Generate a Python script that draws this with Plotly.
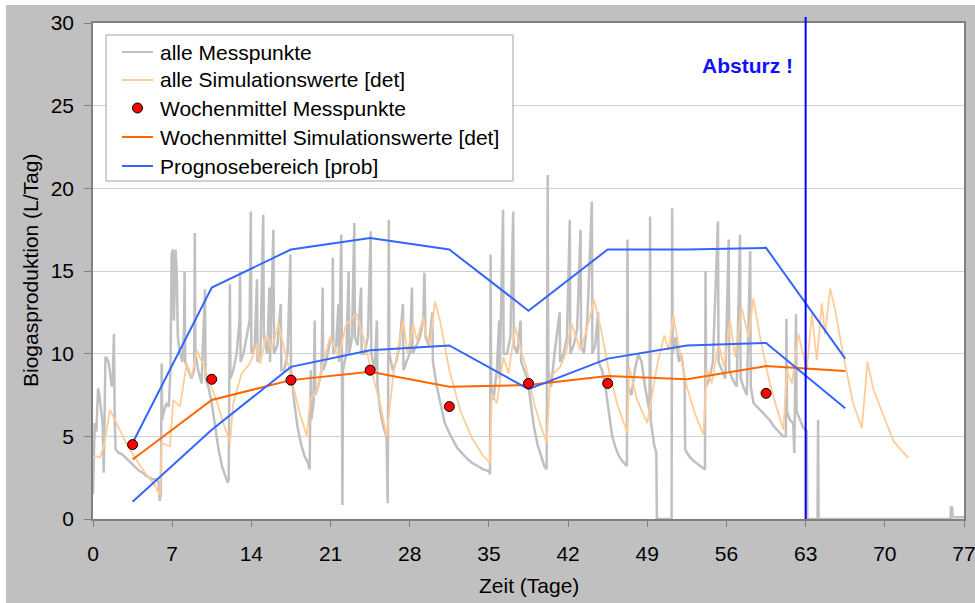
import plotly.graph_objects as go

# ---------------- data ----------------
week_t = [3.5, 10.5, 17.5, 24.5, 31.5, 38.5, 45.5, 52.5, 59.5, 66.5]
prog_upper = [4.6, 14.0, 16.3, 17.0, 16.3, 12.6, 16.3, 16.3, 16.4, 9.7]
prog_lower = [1.05, 5.4, 9.2, 10.2, 10.5, 7.85, 9.7, 10.5, 10.65, 6.7]
wm_sim = [3.6, 7.2, 8.4, 8.9, 8.0, 8.1, 8.65, 8.45, 9.25, 8.95]

wm_mess_t = [3.5, 10.5, 17.5, 24.5, 31.5, 38.5, 45.5, 59.5]
wm_mess = [4.5, 8.45, 8.4, 9.0, 6.8, 8.2, 8.2, 7.6]

# all measured points (time in days, L/day)
mess_t = [
    0.00, 0.05, 0.15, 0.30, 0.45, 0.55, 0.70, 0.85, 0.95, 1.00, 1.10, 1.25, 1.40, 1.55, 1.65, 1.75,
    1.85, 1.92, 2.00, 2.30, 2.60, 2.90, 3.20, 3.50, 3.80, 4.10, 4.40, 4.70, 5.00, 5.30, 5.60, 5.80,
    5.90, 6.00, 6.07, 6.12, 6.30, 6.50, 6.70, 6.85,
    6.95, 7.05, 7.15, 7.30, 7.40, 7.50, 7.70, 7.90, 8.05, 8.10, 8.15, 8.40, 8.70, 8.95, 9.00, 9.05,
    9.30, 9.60, 9.90, 9.95, 10.20, 10.50, 10.80, 11.10, 11.40, 11.70, 11.90, 12.00, 12.05, 12.10,
    12.15, 12.40, 12.70, 12.95, 13.00, 13.05, 13.30, 13.60, 13.85, 13.95, 14.00, 14.30, 14.50, 14.55,
    14.80, 15.05, 15.10, 15.40, 15.60, 15.65, 15.95, 16.00, 16.30, 16.60, 16.65, 16.90, 17.20, 17.45,
    17.50, 17.80, 18.10, 18.40, 18.70, 19.00, 19.15,
    19.25, 19.30, 19.50, 19.60, 19.65, 19.90, 20.20, 20.30, 20.35, 20.60, 20.90, 21.15, 21.20, 21.25,
    21.50, 21.70, 21.75, 21.95, 22.00, 22.05, 22.10, 22.40, 22.60, 22.65, 22.90, 23.10, 23.15, 23.40,
    23.70, 23.75, 24.00, 24.30, 24.55, 24.60, 24.90, 25.10, 25.15, 25.40, 25.70, 25.95, 26.05, 26.15,
    26.20, 26.50, 26.80, 27.10, 27.40, 27.45, 27.70, 28.00, 28.20, 28.25, 28.60, 28.90, 29.20, 29.30,
    29.40, 29.70, 30.00, 30.05, 30.40, 30.80, 31.10, 31.50, 31.80, 32.20, 32.60, 33.00, 33.50, 34.00,
    34.50, 35.00, 35.10,
    35.15, 35.20, 35.40, 35.70, 35.90, 35.95, 36.25, 36.30, 36.60, 36.90, 37.15, 37.20, 37.50, 37.80,
    37.85, 38.10, 38.40, 38.70, 39.00, 39.30, 39.60, 39.90, 40.10,
    40.20, 40.25, 40.50, 40.80, 41.25, 41.30, 41.60, 41.90, 42.15, 42.20, 42.50, 42.80, 43.10, 43.15,
    43.40, 43.70, 44.10, 44.15, 44.40, 44.65, 44.70, 45.00, 45.30, 45.60, 45.90, 46.20, 46.50, 46.80,
    47.10, 47.20,
    47.25, 47.30, 47.60, 47.90, 48.20, 48.50, 48.80, 49.20, 49.25, 49.30, 49.60, 49.80, 49.85, 51.15,
    51.20, 51.25, 51.50, 51.80, 52.00, 52.30, 52.35, 52.70, 53.10, 53.50, 53.90, 54.10,
    54.15, 54.20, 54.50, 54.80, 55.25, 55.30, 55.60, 55.90, 56.20, 56.25, 56.50, 56.90, 57.20, 57.25,
    57.50, 57.80, 58.10, 58.15, 58.40, 58.70, 59.00, 59.40, 59.80, 60.20, 60.60, 61.00, 61.25, 61.30,
    61.35, 61.60, 61.90, 62.00, 62.15, 62.20, 62.50, 62.80, 63.10, 63.15, 64.05, 64.10, 64.15,
    75.80, 75.85, 75.95, 76.00, 77.00]
mess_v = [
    1.5, 4.0, 5.8, 5.3, 7.9, 7.6, 6.5, 5.8, 2.8, 6.0, 9.8, 9.7, 9.4, 8.6, 8.0, 8.5,
    11.2, 6.0, 4.2, 4.0, 3.9, 3.7, 3.5, 3.3, 3.1, 2.9, 2.8, 2.6, 2.5, 2.4, 2.4, 2.2,
    1.1, 1.6, 9.4, 6.0, 6.6, 7.0, 6.8, 9.0,
    16.0, 16.3, 12.0, 16.3, 15.0, 11.0, 10.0, 9.5, 11.5, 15.0, 9.5, 9.0, 8.5, 9.0, 17.3, 10.0,
    9.0, 8.2, 13.9, 8.5, 8.0, 7.0, 5.5, 4.2, 3.2, 2.6, 2.2, 2.4, 9.5, 14.2,
    8.5, 9.0, 10.0, 12.0, 15.0, 9.5, 10.0, 11.0, 12.0, 18.6, 10.0, 10.5, 14.5, 9.5,
    10.0, 18.4, 11.0, 10.0, 14.0, 9.5, 17.5, 10.0, 10.5, 13.0, 9.0, 9.0, 10.0, 16.0,
    9.0, 7.0, 5.5, 4.5, 3.8, 3.4, 3.0,
    9.0, 6.0, 7.0, 12.0, 7.5, 8.0, 9.0, 14.0, 9.0, 9.5, 10.5, 11.0, 15.8, 10.0,
    10.5, 13.0, 9.5, 17.2, 10.0, 0.85, 9.0, 10.0, 15.0, 10.0, 11.0, 17.9, 11.0, 10.5,
    14.0, 10.0, 10.0, 11.0, 17.4, 10.0, 9.0, 12.0, 8.0, 6.5, 5.5, 5.0, 0.95, 18.1,
    10.0, 9.0, 9.5, 10.5, 13.0, 9.0, 9.5, 10.0, 14.0, 10.0, 10.5, 11.0, 12.0, 14.9,
    11.0, 10.5, 12.5, 9.5, 8.0, 6.8, 5.8, 5.2, 4.8, 4.3, 4.0, 3.7, 3.4, 3.2,
    3.0, 2.9, 2.7,
    16.0, 8.0, 7.2, 9.0, 12.0, 8.5, 18.7, 10.0, 10.0, 11.0, 18.6, 10.5, 10.0, 12.0,
    9.5, 9.0, 8.5, 7.0, 5.5, 4.5, 3.8, 3.2, 3.0,
    20.8, 9.0, 8.0, 10.0, 12.5, 9.5, 10.0, 11.0, 18.1, 10.0, 10.5, 11.5, 17.5, 10.5,
    10.0, 12.0, 19.2, 10.0, 10.5, 12.5, 9.5, 9.0, 8.0, 6.5, 5.0, 4.3, 3.8, 3.5,
    3.3, 3.2,
    16.9, 8.0, 7.5, 9.0, 10.0, 9.5, 8.0, 6.5, 18.3, 6.0, 4.5, 4.0, 0.0, 0.0,
    18.8, 10.0, 11.0, 9.5, 10.0, 8.5, 4.2, 3.8, 3.5, 3.3, 3.1, 3.0,
    15.0, 8.0, 8.5, 9.5, 18.0, 9.5, 9.0, 8.5, 16.9, 9.0, 8.5, 8.0, 17.2, 8.5,
    8.0, 7.5, 16.2, 8.0, 7.0, 6.8, 6.6, 6.3, 6.0, 5.6, 5.3, 5.0, 5.0, 12.1,
    6.5, 6.0, 5.8, 4.0, 12.4, 6.5, 6.0, 5.5, 5.3, 0.0, 0.0, 6.0, 0.0,
    0.0, 0.7, 0.7, 0.1, 0.1]

# all simulated values (deterministic)
sim_t = [
    0.00, 0.30, 0.60, 1.00, 1.50, 2.20, 3.00, 3.80, 4.60, 5.40, 5.92, 6.07, 6.80, 7.10, 7.69, 8.28,
    8.72, 9.17, 9.70, 10.35, 11.00, 11.52, 12.11, 12.40, 13.14, 13.88, 14.47, 14.77, 15.35, 15.80,
    16.39, 16.80, 17.50, 18.20, 18.90, 19.20, 19.80, 20.40, 20.96, 21.70, 22.40, 23.30, 23.90, 24.60,
    25.38, 25.96, 26.55, 27.14, 27.44, 27.80, 28.32, 28.62, 29.20, 29.50, 29.80, 30.24, 30.68, 31.50,
    32.50, 33.50, 34.40, 35.10, 35.25, 35.70, 36.28, 36.73, 37.32, 37.76, 38.35, 39.00, 39.60, 40.12,
    40.42, 41.30, 41.80, 42.30, 43.10, 43.70, 44.30, 44.90, 45.60, 46.40, 47.25, 47.40, 48.10, 49.00,
    49.90, 50.50, 50.90, 51.31, 51.80, 52.50, 53.20, 53.96, 54.26, 54.70, 55.29, 55.80, 56.32, 56.76,
    57.35, 57.94, 58.38, 58.97, 59.80, 60.40, 61.04, 61.33, 61.80, 62.36, 63.10, 63.55, 63.99, 64.43,
    64.72, 65.17, 65.61, 66.35, 67.20, 67.97, 68.47, 69.00, 70.00, 70.77, 71.40, 72.10]
sim_v = [
    3.7, 3.8, 3.7, 4.5, 6.6, 5.6, 4.5, 3.6, 2.8, 2.1, 1.45, 4.6, 4.4, 7.2, 6.8, 9.4,
    8.6, 10.2, 9.4, 8.2, 7.0, 5.8, 4.6, 7.0, 8.8, 9.4, 10.6, 9.4, 11.2, 10.2,
    11.8, 10.6, 8.5, 6.6, 5.0, 7.2, 7.8, 9.6, 11.0, 9.8, 11.8, 12.4, 11.0, 9.0,
    7.0, 5.0, 8.8, 11.0, 12.0, 10.0, 11.8, 10.8, 12.2, 11.0, 10.6, 13.15, 12.0, 9.0,
    6.5, 4.9, 3.9, 3.4, 7.6, 7.0, 9.8, 8.8, 11.6, 10.4, 9.0, 7.0, 5.6, 4.6,
    8.6, 9.2, 10.0, 11.8, 10.2, 11.6, 13.25, 11.5, 9.0, 6.8, 5.2, 9.2, 7.2, 5.8,
    9.4, 11.1, 10.2, 12.3, 10.4, 8.0, 6.4, 5.1, 9.1, 8.2, 10.6, 9.2, 12.0, 9.8,
    12.75, 11.0, 13.35, 11.0, 8.3, 6.8, 5.4, 9.0, 8.2, 11.2, 9.0, 12.4, 9.6, 13.05,
    11.2, 13.95, 12.65, 9.8, 7.0, 5.5, 9.5, 7.8, 6.0, 4.7, 4.2, 3.7]

# ---------------- figure ----------------
FONT = "Arial, 'Liberation Sans', sans-serif"
PW, PH, L, T = 871.0, 496.0, 93.0, 23.0


def px(xp):
    return (xp - L) / PW


def py(yp):
    return (T + PH - yp) / PH


fig = go.Figure()
fig.add_trace(go.Scatter(x=mess_t, y=mess_v, mode="lines", name="alle Messpunkte",
                         line=dict(color="#c0c0c0", width=2.5), showlegend=False))
fig.add_trace(go.Scatter(x=sim_t, y=sim_v, mode="lines", name="alle Simulationswerte [det]",
                         line=dict(color="#ffcc99", width=1.8), showlegend=False))
fig.add_trace(go.Scatter(x=week_t, y=wm_sim, mode="lines", name="Wochenmittel Simulationswerte [det]",
                         line=dict(color="#ff6600", width=2), showlegend=False))
fig.add_trace(go.Scatter(x=week_t, y=prog_upper, mode="lines", name="Prognosebereich [prob]",
                         line=dict(color="#3366ff", width=2), showlegend=False))
fig.add_trace(go.Scatter(x=week_t, y=prog_lower, mode="lines", name="Prognosebereich [prob]",
                         line=dict(color="#3366ff", width=2), showlegend=False))
fig.add_trace(go.Scatter(x=wm_mess_t, y=wm_mess, mode="markers", name="Wochenmittel Messpunkte",
                         marker=dict(color="#ff0000", size=10, line=dict(color="#000000", width=1)),
                         showlegend=False))

# legend drawn as shapes + text
legend_items = [
    ("alle Messpunkte", "line", "#c0c0c0"),
    ("alle Simulationswerte [det]", "line", "#ffcc99"),
    ("Wochenmittel Messpunkte", "marker", "#ff0000"),
    ("Wochenmittel Simulationswerte [det]", "line", "#ff6600"),
    ("Prognosebereich [prob]", "line", "#3366ff"),
]
legend_y = [52, 80, 108, 137, 166]

shapes = [
    dict(type="rect", xref="paper", yref="paper", x0=px(106), x1=px(513), y0=py(181), y1=py(35),
         fillcolor="#ffffff", line=dict(color="#a0a0a0", width=1), layer="above"),
    dict(type="line", xref="x", yref="paper", x0=63, x1=63, y0=0, y1=py(17),
         line=dict(color="#0000ff", width=2)),
    dict(type="rect", xref="paper", yref="paper", x0=px(0), x1=px(6), y0=py(603), y1=py(0),
         fillcolor="#ffffff", line=dict(width=0)),
    dict(type="rect", xref="paper", yref="paper", x0=px(0), x1=px(975), y0=py(5), y1=py(0),
         fillcolor="#ffffff", line=dict(width=0)),
]
annotations = []
for (label, kind, color), yc in zip(legend_items, legend_y):
    if kind == "line":
        shapes.append(dict(type="line", xref="paper", yref="paper", x0=px(122), x1=px(153),
                           y0=py(yc), y1=py(yc), line=dict(color=color, width=2), layer="above"))
    else:
        shapes.append(dict(type="circle", xref="paper", yref="paper", x0=px(132.5), x1=px(142.5),
                           y0=py(yc + 5), y1=py(yc - 5), fillcolor=color,
                           line=dict(color="#000000", width=1), layer="above"))
    annotations.append(dict(text=label, x=px(158), y=py(yc), xref="paper", yref="paper",
                            xanchor="left", yanchor="middle", showarrow=False,
                            font=dict(family=FONT, size=21, color="#000000")))

annotations += [
    dict(text="Absturz !", x=57.9, y=27.4, xref="x", yref="y", showarrow=False,
         xanchor="center", yanchor="middle",
         font=dict(family=FONT, size=21, color="#1010ff", weight="bold")),
    dict(text="Zeit (Tage)", x=0.5, y=py(585), xref="paper", yref="paper",
         xanchor="center", yanchor="middle", showarrow=False, font=dict(family=FONT, size=21)),
    dict(text="Biogasproduktion (L/Tag)", x=px(30), y=0.5, xref="paper", yref="paper",
         xanchor="center", yanchor="middle", showarrow=False, textangle=-90,
         font=dict(family=FONT, size=21)),
]

fig.update_layout(
    width=975, height=603,
    margin=dict(l=93, r=11, t=23, b=84, autoexpand=False),
    paper_bgcolor="#c0c0c0",
    plot_bgcolor="#ffffff",
    font=dict(family=FONT, size=21, color="#000000"),
    showlegend=False,
    xaxis=dict(range=[0, 77], tick0=0, dtick=7, ticks="outside", ticklen=6, tickcolor="#808080",
               showline=True, linecolor="#808080", linewidth=2, mirror=True, showgrid=False,
               zeroline=False, ticklabelstandoff=9, tickfont=dict(size=21), automargin=False,
               ticklabeloverflow="allow"),
    yaxis=dict(range=[0, 30], tick0=0, dtick=5, ticks="outside", ticklen=7, tickcolor="#808080",
               showline=True, linecolor="#808080", linewidth=1.5, mirror=True, showgrid=True,
               gridcolor="#d0d0d0", gridwidth=1, zeroline=False, ticklabelstandoff=6,
               tickfont=dict(size=21), automargin=False, ticklabeloverflow="allow"),
    shapes=shapes,
    annotations=annotations,
)

fig.write_html("out.html")
